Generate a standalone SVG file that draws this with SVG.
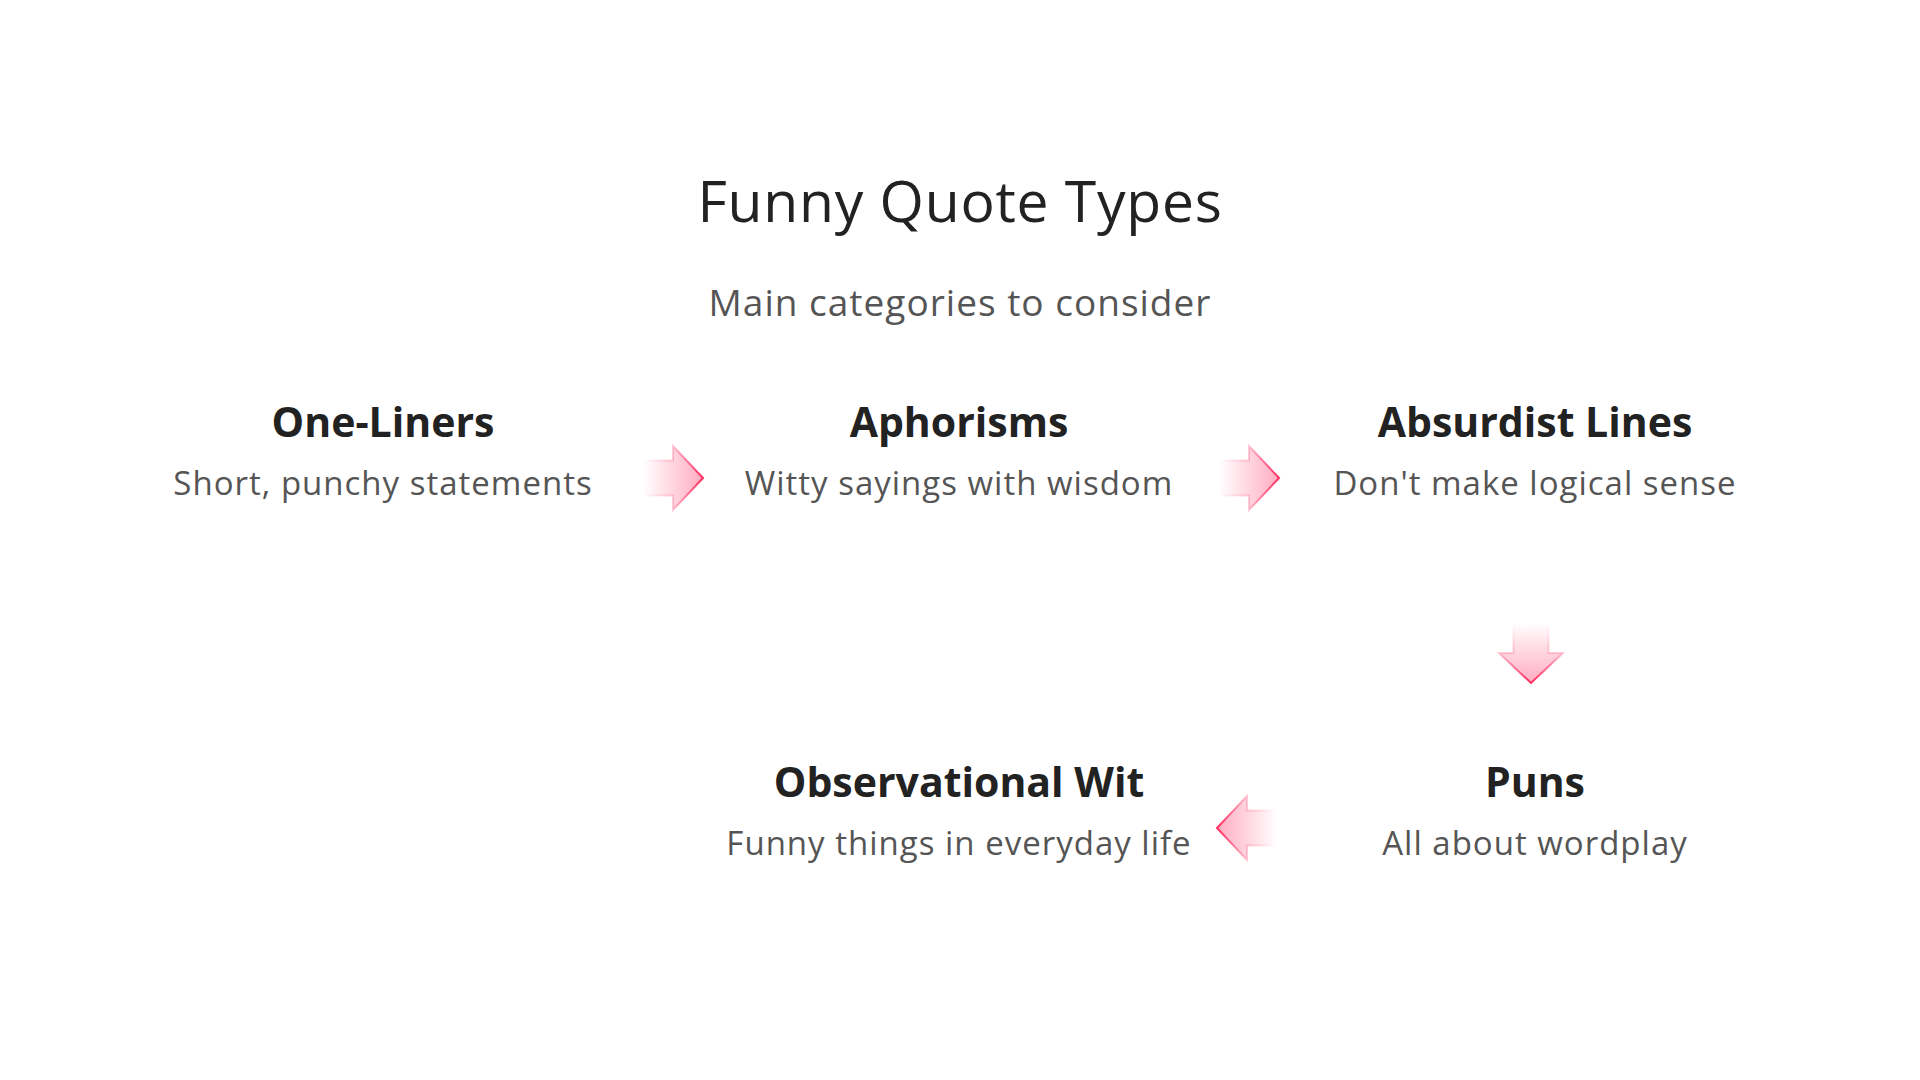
<svg xmlns="http://www.w3.org/2000/svg" width="1920" height="1080" viewBox="0 0 1920 1080">
  <defs>
    <linearGradient id="arrowFill" x1="0" y1="0" x2="1" y2="0">
      <stop offset="0" stop-color="#ffc2d2" stop-opacity="0"/>
      <stop offset="0.5" stop-color="#ffc2d2" stop-opacity="0.7"/>
      <stop offset="1" stop-color="#ffa9c0" stop-opacity="1"/>
    </linearGradient>
    <linearGradient id="arrowStroke" x1="0" y1="0" x2="1" y2="0">
      <stop offset="0" stop-color="#ff3a6a" stop-opacity="0"/>
      <stop offset="0.5" stop-color="#ff3a6a" stop-opacity="0.25"/>
      <stop offset="1" stop-color="#ff2a5e" stop-opacity="1"/>
    </linearGradient>
    <path id="arrowShape" d="M0,-17.5 L30,-17.5 L30,-32 L60,0 L30,32 L30,17.5 L0,17.5 Z"/>
  </defs>
  <style>
    text { font-family: "Open Sans", "Noto Sans", "Liberation Sans", sans-serif; text-anchor: middle; }
    .title { font-size: 57px; fill: #222222; letter-spacing: 0.75px; }
    .subtitle { font-size: 37px; fill: #555555; letter-spacing: 1px; }
    .node-title { font-size: 41px; font-weight: bold; fill: #222222; }
    .node-desc { font-size: 33px; fill: #555555; letter-spacing: 1px; }
    .arrow { fill: url(#arrowFill); stroke: url(#arrowStroke); stroke-width: 2; }
  </style>
  <rect width="1920" height="1080" fill="#ffffff"/>
  <g id="header">
    <text class="title" x="960" y="222">Funny Quote Types</text>
    <text class="subtitle" x="960" y="316">Main categories to consider</text>
  </g>
  <g id="connectors">
    <use href="#arrowShape" class="arrow" transform="translate(643,478)"/>
    <use href="#arrowShape" class="arrow" transform="translate(1219,478)"/>
    <use href="#arrowShape" class="arrow" transform="translate(1531,623) rotate(90)"/>
    <use href="#arrowShape" class="arrow" transform="translate(1277,828) rotate(180)"/>
  </g>
  <g id="node-one-liners">
    <text class="node-title" x="383" y="437">One-Liners</text>
    <text class="node-desc" x="383" y="495">Short, punchy statements</text>
  </g>
  <g id="node-aphorisms">
    <text class="node-title" x="959" y="437">Aphorisms</text>
    <text class="node-desc" x="959" y="495">Witty sayings with wisdom</text>
  </g>
  <g id="node-absurdist-lines">
    <text class="node-title" x="1535" y="437">Absurdist Lines</text>
    <text class="node-desc" x="1535" y="495">Don't make logical sense</text>
  </g>
  <g id="node-puns">
    <text class="node-title" x="1535" y="797">Puns</text>
    <text class="node-desc" x="1535" y="855">All about wordplay</text>
  </g>
  <g id="node-observational-wit">
    <text class="node-title" x="959" y="797">Observational Wit</text>
    <text class="node-desc" x="959" y="855">Funny things in everyday life</text>
  </g>
</svg>
